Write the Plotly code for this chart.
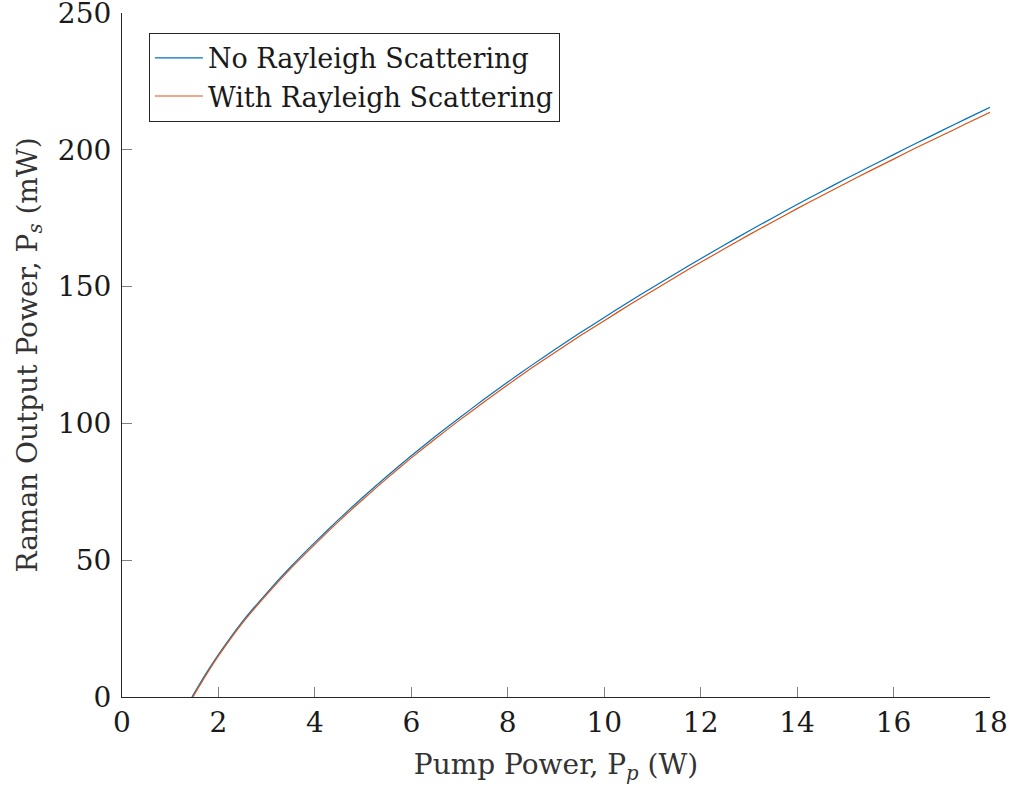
import plotly.graph_objects as go

pump_power = [1.45, 1.6, 1.8, 2, 2.5, 3, 3.5, 4, 4.5, 5, 5.5, 6, 6.5, 7, 7.5, 8, 8.5, 9, 9.5,
              10, 10.5, 11, 11.5, 12, 12.5, 13, 13.5, 14, 14.5, 15, 15.5, 16, 16.5, 17, 17.5, 18]
no_rayleigh = [0, 4.5, 10.2, 15.5, 27.6, 38.0, 47.6, 56.5, 65.0, 73.1, 80.8, 88.2, 95.3, 102.1,
               108.7, 115.1, 121.3, 127.3, 133.1, 138.7, 144.3, 149.7, 155.0, 160.2, 165.3,
               170.3, 175.2, 180.0, 184.7, 189.3, 193.8, 198.25, 202.65, 207.0, 211.3, 215.55]
pump_power_r = [1.47, 1.6, 1.8, 2, 2.5, 3, 3.5, 4, 4.5, 5, 5.5, 6, 6.5, 7, 7.5, 8, 8.5, 9, 9.5,
                10, 10.5, 11, 11.5, 12, 12.5, 13, 13.5, 14, 14.5, 15, 15.5, 16, 16.5, 17, 17.5, 18]
with_rayleigh = [0, 3.9, 9.6, 15.0, 27.1, 37.4, 47.0, 55.8, 64.3, 72.3, 80.0, 87.4, 94.4, 101.2,
                 107.7, 114.1, 120.3, 126.2, 132.0, 137.5, 143.1, 148.4, 153.7, 158.9, 163.9,
                 168.9, 173.7, 178.5, 183.1, 187.7, 192.2, 196.6, 201.0, 205.2, 209.5, 213.7]

x_ticks = [0, 2, 4, 6, 8, 10, 12, 14, 16, 18]
y_ticks = [0, 50, 100, 150, 200, 250]

FONT = "DejaVu Serif"
TICK_FS = 28
TITLE_FS = 28
LEG_FS = 27

fig = go.Figure()
fig.add_trace(go.Scatter(x=pump_power, y=no_rayleigh, mode="lines",
                         line=dict(color="#0072BD", width=1.2, shape="spline", smoothing=0.5),
                         name="No Rayleigh Scattering"))
fig.add_trace(go.Scatter(x=pump_power_r, y=with_rayleigh, mode="lines",
                         line=dict(color="#D95319", width=1.2, shape="spline", smoothing=0.5),
                         name="With Rayleigh Scattering"))

axis_common = dict(showgrid=False, zeroline=False, showline=True, linecolor="#262626",
                   linewidth=1.2, ticks="inside", ticklen=10, tickcolor="#808080",
                   tickwidth=1, automargin=False, ticklabeloverflow="allow",
                   tickfont=dict(family=FONT, size=TICK_FS, color="#1a1a1a"))

fig.update_xaxes(range=[0, 18], tickvals=x_ticks, ticktext=[str(v) for v in x_ticks],
                 title=dict(text="Pump Power, P<sub><i>p</i></sub> (W)",
                            font=dict(family=FONT, size=TITLE_FS, color="#333333"), standoff=16),
                 **axis_common)
fig.update_yaxes(range=[0, 250], tickvals=y_ticks, ticktext=[str(v) for v in y_ticks],
                 ticklabelstandoff=4,
                 title=dict(text="Raman Output Power, P<sub><i>s</i></sub> (mW)",
                            font=dict(family=FONT, size=TITLE_FS, color="#333333"), standoff=12),
                 **axis_common)

fig.update_layout(
    width=1012, height=786,
    margin=dict(l=122, r=22, t=13, b=89),
    plot_bgcolor="white", paper_bgcolor="white",
    showlegend=True,
    legend=dict(x=0.031, y=0.971, xanchor="left", yanchor="top",
                bgcolor="white", bordercolor="#262626", borderwidth=1,
                font=dict(family=FONT, size=LEG_FS, color="#1a1a1a"),
                itemwidth=48, tracegroupgap=0),
)

fig.write_html("out.html", config={"displayModeBar": False},
               post_script="document.body.style.margin='0';document.body.style.overflow='hidden';")
